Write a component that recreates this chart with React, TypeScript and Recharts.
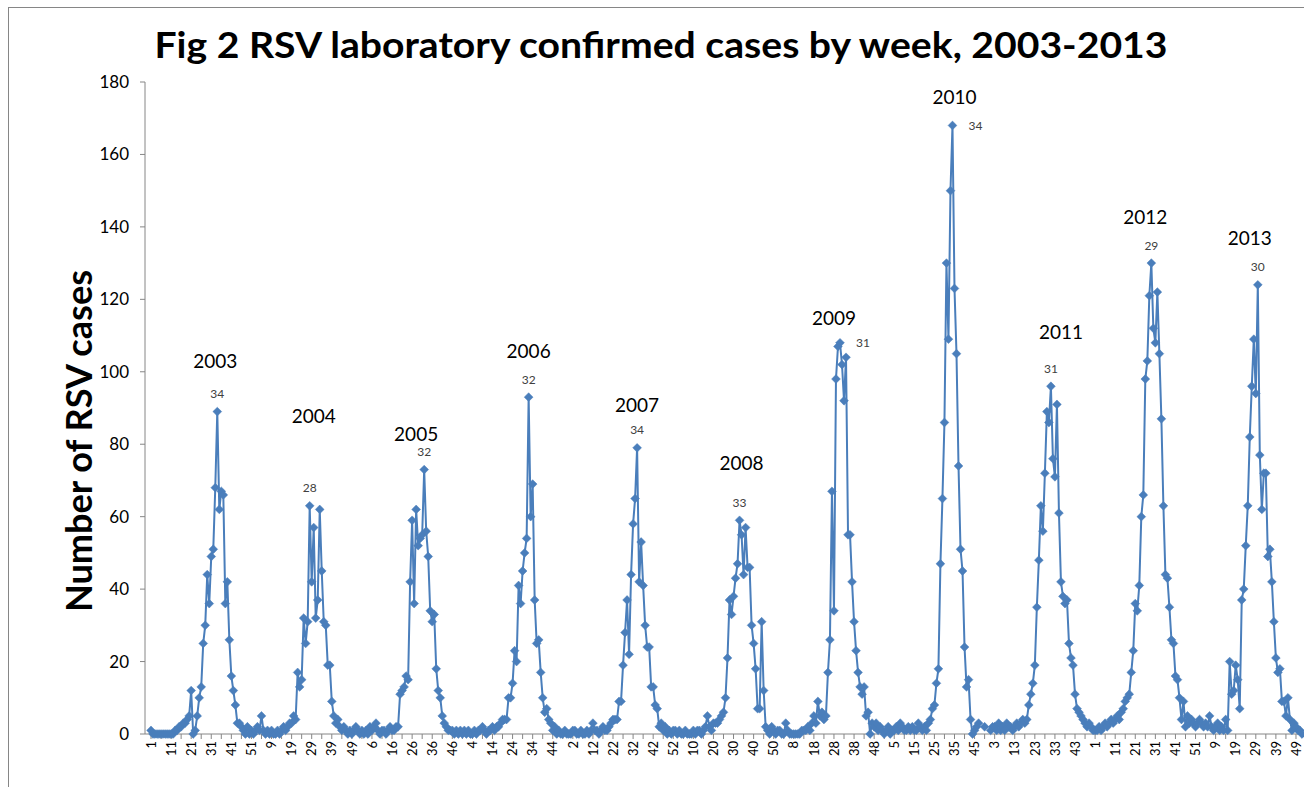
import React from 'react';
import { LineChart, Line, XAxis, YAxis, ReferenceDot, LabelList } from 'recharts';

// weekly laboratory confirmed RSV cases, one array per year (ISO weeks)
const YEARS = [2003, 2004, 2005, 2006, 2007, 2008, 2009, 2010, 2011, 2012, 2013];

const CASES_2003 = [1, 0, 0, 0, 0, 0, 0, 0, 0, 0, 0, 0, 1, 1, 2, 2, 3, 3, 4, 5, 12, 0, 1, 5, 10, 13, 25, 30, 44, 36, 49, 51, 68, 89, 62, 67, 66, 36, 42, 26, 16, 12, 8, 3, 3, 2, 1, 0, 2, 0, 1, 0];
const CASES_2004 = [1, 2, 1, 5, 1, 0, 1, 0, 1, 0, 0, 1, 0, 1, 2, 1, 2, 3, 3, 5, 4, 17, 13, 15, 32, 25, 31, 63, 42, 57, 32, 37, 62, 45, 31, 30, 19, 19, 9, 5, 3, 4, 2, 1, 2, 1, 0, 1, 0, 1, 2, 1, 0];
const CASES_2005 = [1, 0, 1, 0, 2, 1, 2, 3, 1, 0, 1, 1, 0, 1, 2, 1, 1, 2, 2, 11, 12, 13, 16, 15, 42, 59, 36, 62, 52, 54, 55, 73, 56, 49, 34, 31, 33, 18, 12, 10, 5, 3, 2, 1, 1, 1, 0, 1, 0, 1, 0, 1];
const CASES_2006 = [0, 1, 0, 0, 1, 0, 1, 1, 2, 1, 0, 1, 1, 2, 1, 2, 2, 3, 4, 4, 4, 10, 10, 14, 23, 20, 41, 36, 45, 50, 54, 93, 60, 69, 37, 25, 26, 17, 10, 6, 7, 4, 3, 1, 2, 0, 1, 0, 0, 1, 0, 0];
const CASES_2007 = [0, 1, 1, 0, 0, 1, 0, 0, 1, 0, 1, 3, 1, 1, 0, 1, 2, 1, 1, 2, 3, 4, 4, 4, 9, 9, 19, 28, 37, 22, 44, 58, 65, 79, 42, 53, 41, 30, 24, 24, 13, 13, 8, 7, 2, 3, 1, 2, 0, 1, 0, 1];
const CASES_2008 = [1, 0, 1, 0, 0, 1, 0, 0, 0, 1, 0, 1, 1, 0, 1, 2, 5, 2, 1, 3, 3, 3, 4, 5, 6, 10, 21, 37, 33, 38, 43, 47, 59, 55, 44, 57, 46, 46, 30, 25, 18, 7, 7, 31, 12, 2, 1, 0, 2, 1, 0, 1];
const CASES_2009 = [1, 0, 0, 3, 1, 0, 0, 0, 0, 0, 0, 1, 1, 1, 2, 1, 3, 5, 3, 9, 5, 6, 4, 5, 17, 26, 67, 34, 98, 107, 108, 102, 92, 104, 55, 55, 42, 31, 23, 17, 13, 11, 13, 5, 6, 0, 3, 2, 3, 1, 2, 1, 0];
const CASES_2010 = [1, 2, 0, 1, 1, 2, 1, 3, 2, 1, 1, 2, 1, 2, 1, 1, 3, 2, 1, 2, 1, 3, 4, 7, 8, 14, 18, 47, 65, 86, 130, 109, 150, 168, 123, 105, 74, 51, 45, 24, 13, 15, 4, 0, 1, 2, 3, null, null, 2, null, null];
const CASES_2011 = [1, 2, 2, 1, 3, 1, 2, 1, 3, 2, 2, 1, 2, 3, 2, 3, 4, 3, 4, 8, 11, 14, 19, 35, 48, 63, 56, 72, 89, 86, 96, 76, 71, 91, 61, 42, 38, 36, 37, 25, 21, 19, 11, 7, 6, 5, 4, 3, 2, 3, 2, 1];
const CASES_2012 = [1, 1, 2, 1, 2, 3, 2, 3, 4, 3, 4, 5, 4, 6, 7, 9, 10, 11, 17, 23, 36, 34, 41, 60, 66, 98, 103, 121, 130, 112, 108, 122, 105, 87, 63, 44, 43, 35, 26, 25, 16, 15, 10, 4, 9, 2, 5, 3, 4, 3, 2, 3];
const CASES_2013 = [4, 3, 2, 3, 2, 5, 2, 1, 2, 3, 1, 2, 1, 4, 1, 20, 11, 12, 19, 15, 7, 37, 40, 52, 63, 82, 96, 109, 94, 124, 77, 62, 72, 72, 49, 51, 42, 31, 21, 17, 18, 9, 9, 5, 10, 4, 1, 3, 2, 1, 1, 0];

const CASES_BY_YEAR: (number | null)[][] = [
  CASES_2003, CASES_2004, CASES_2005, CASES_2006, CASES_2007, CASES_2008,
  CASES_2009, CASES_2010, CASES_2011, CASES_2012, CASES_2013,
];

const Y_TICKS = [0, 20, 40, 60, 80, 100, 120, 140, 160, 180];

// year captions above each season: week they sit over and the case level
const YEAR_NOTES = [
  { year: 2003, week: 33, level: 103 },
  { year: 2004, week: 30, level: 88 },
  { year: 2005, week: 28, level: 83 },
  { year: 2006, week: 32, level: 106 },
  { year: 2007, week: 34, level: 91 },
  { year: 2008, week: 34, level: 75 },
  { year: 2009, week: 28, level: 115 },
  { year: 2010, week: 35, level: 176 },
  { year: 2011, week: 36, level: 111 },
  { year: 2012, week: 26, level: 143 },
  { year: 2013, week: 26, level: 137 },
];
// peak week labels drawn to the right instead of above
const PEAK_LABEL_RIGHT = [2009, 2010];

const BLUE = '#4a7ebb';
const AXIS = '#868686';
const FONT = 'Lato, "Open Sans", sans-serif';

type Row = { id: string; year: number; week: number; cases: number | null; peak?: string };

const rows: Row[] = [];
YEARS.forEach((year, yi) => {
  const vals = CASES_BY_YEAR[yi];
  const max = Math.max(...(vals.filter((v) => v !== null) as number[]));
  const peakAt = vals.indexOf(max);
  vals.forEach((v, i) => {
    rows.push({
      id: `${year}-${i + 1}`,
      year,
      week: i + 1,
      cases: v,
      peak: i === peakAt ? String(i + 1) : undefined,
    });
  });
});

const indexOfId = new Map(rows.map((r, i) => [r.id, i]));

const WeekTick = (props: any) => {
  const { x, y, payload } = props;
  const idx = indexOfId.get(payload.value);
  if (idx === undefined || idx % 10 !== 0) return <g />;
  return (
    <text
      transform={`translate(${x},${y}) rotate(-90)`}
      textAnchor="end"
      dy="0.36em"
      fontSize={13}
      fontFamily={FONT}
      fill="#000"
    >
      {rows[idx].week}
    </text>
  );
};

const Diamond = (props: any) => {
  const { cx, cy, index, value } = props;
  if (cx == null || cy == null || value == null) return <g key={`m${index}`} />;
  const r = 4.4;
  return (
    <path
      key={`m${index}`}
      d={`M${cx},${cy - r}L${cx + r},${cy}L${cx},${cy + r}L${cx - r},${cy}Z`}
      fill={BLUE}
      stroke={BLUE}
      strokeWidth={0.5}
    />
  );
};

const PeakLabel = (props: any) => {
  const { x, y, value, index } = props;
  if (value == null || value === '') return null;
  const right = PEAK_LABEL_RIGHT.includes(rows[index]?.year);
  return (
    <text
      x={right ? x + 16 : x}
      y={right ? y : y - 18}
      textAnchor={right ? 'start' : 'middle'}
      dominantBaseline="central"
      fontSize={12}
      fontFamily={FONT}
      fill="#404040"
    >
      {value}
    </text>
  );
};

export default function App() {
  return (
    <div
      style={{
        position: 'absolute',
        left: 0,
        top: 0,
        width: 1304,
        height: 787,
        overflow: 'hidden',
        background: '#fff',
      }}
    >
      <div
        style={{
          position: 'absolute',
          left: 8,
          top: 7,
          width: 1400,
          height: 900,
          borderLeft: `1px solid ${AXIS}`,
          borderTop: `1px solid ${AXIS}`,
        }}
      />
      <LineChart
        width={1304}
        height={787}
        data={rows}
        margin={{ top: 82, right: 2, bottom: 0, left: 0 }}
        style={{ position: 'absolute', left: 0, top: 0 }}
      >
        <XAxis
          dataKey="id"
          interval={4}
          height={53}
          padding={{ left: 6, right: 0 }}
          tickSize={5}
          tickMargin={2}
          axisLine={{ stroke: AXIS }}
          tickLine={{ stroke: AXIS }}
          tick={<WeekTick />}
        />
        <YAxis
          width={145}
          domain={[0, 180]}
          ticks={Y_TICKS}
          interval={0}
          tickSize={5}
          tickMargin={11}
          axisLine={{ stroke: AXIS }}
          tickLine={{ stroke: AXIS }}
          tick={{ fontSize: 17, fontFamily: FONT, fill: '#000' }}
        />
        {YEAR_NOTES.map((n) => (
          <ReferenceDot
            key={n.year}
            x={`${n.year}-${n.week}`}
            y={n.level}
            r={0}
            ifOverflow="visible"
            shape={(p: any) => (
              <text
                x={p.cx}
                y={p.cy}
                textAnchor="middle"
                dominantBaseline="central"
                fontSize={19}
                fontFamily={FONT}
                fill="#000"
              >
                {n.year}
              </text>
            )}
          />
        ))}
        <Line
          type="linear"
          dataKey="cases"
          stroke={BLUE}
          strokeWidth={2}
          dot={Diamond}
          activeDot={false}
          isAnimationActive={false}
        >
          <LabelList dataKey="peak" content={PeakLabel} />
        </Line>
      </LineChart>
      <svg
        width={1304}
        height={787}
        style={{ position: 'absolute', left: 0, top: 0, pointerEvents: 'none' }}
      >
        <text
          x={661}
          y={58}
          textAnchor="middle"
          fontSize={36}
          fontWeight="bold"
          fontFamily={FONT}
          textLength={1013}
          lengthAdjust="spacingAndGlyphs"
          fill="#000"
        >
          Fig 2 RSV laboratory confirmed cases by week, 2003-2013
        </text>
        <text
          transform="translate(92,441) rotate(-90)"
          textAnchor="middle"
          fontSize={36}
          fontWeight="bold"
          fontFamily={FONT}
          textLength={342}
          lengthAdjust="spacingAndGlyphs"
          fill="#000"
        >
          Number of RSV cases
        </text>
      </svg>
    </div>
  );
}
